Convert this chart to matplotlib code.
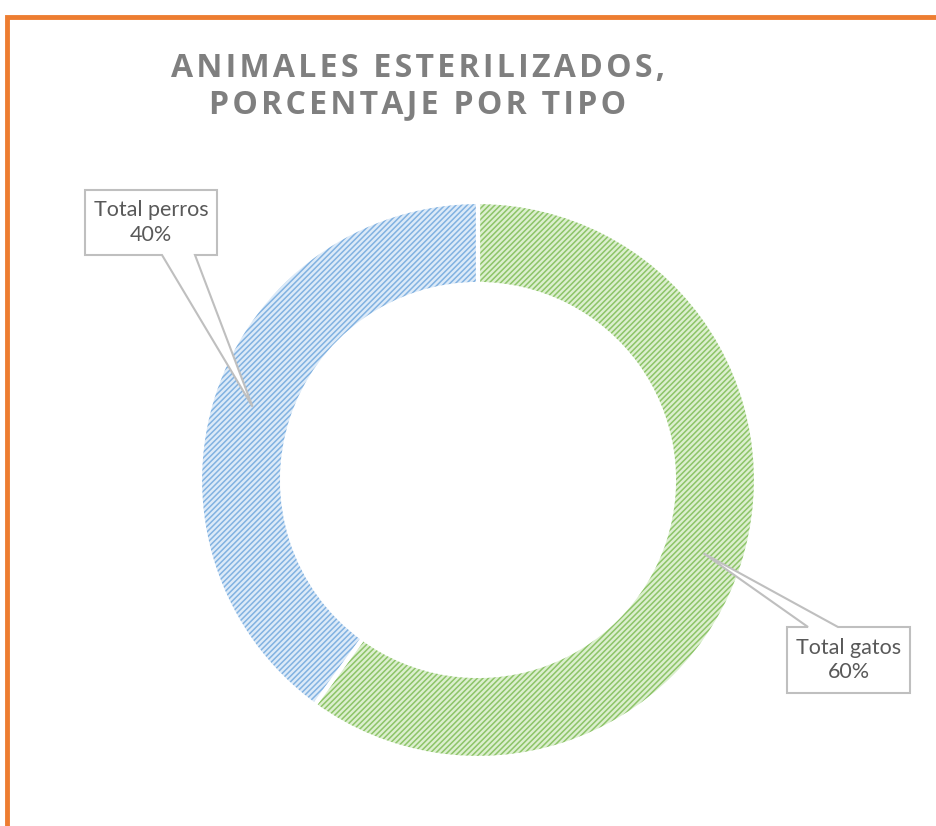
import matplotlib
matplotlib.use("Agg")
import matplotlib.pyplot as plt
import numpy as np
from matplotlib.patches import Polygon
from matplotlib.lines import Line2D

# data
categories = ["Total gatos", "Total perros"]
values = [60, 40]
pct_labels = ["60%", "40%"]
face_colors = ["#DCEFCF", "#DCEAF8"]
hatch_colors = ["#8DC468", "#82B2E1"]

W, H = 936, 826
fig = plt.figure(figsize=(W / 100, H / 100), dpi=100)
plt.rcParams['hatch.linewidth'] = 1.1

# center in image px and radius
cx, cy, R = 478, 480, 278
ax = fig.add_axes([0, 0, 1, 1])

def px(x, y):
    return ((x - cx) / R, (cy - y) / R)

ring = 0.295
wedges, _ = ax.pie(values, startangle=90, counterclock=False, radius=1,
                   colors=face_colors,
                   wedgeprops=dict(width=ring, linewidth=0), center=(0, 0),
                   frame=True)
for w, hc in zip(wedges, hatch_colors):
    w.set_hatch('//////')
    w.set_edgecolor(hc)
    w.set_linewidth(0)
ax.pie(values, startangle=90, counterclock=False, radius=1,
       colors=['none', 'none'],
       wedgeprops=dict(width=ring, linewidth=3, edgecolor='white'), center=(0, 0),
       frame=True)
ax.set_xlim(-cx / R, (W - cx) / R)
ax.set_ylim(-(H - cy) / R, cy / R)
ax.set_aspect('equal')
ax.axis('off')

# callouts
r_mid = 1 - ring / 2
boxes = {
    "Total gatos": dict(box=(787, 627, 910, 693), base=(808, 838), side='top'),
    "Total perros": dict(box=(85, 190, 217, 255), base=(162, 195), side='bottom'),
}
for w, cat, pl in zip(wedges, categories, pct_labels):
    ang = np.deg2rad((w.theta1 + w.theta2) / 2)
    tip = (r_mid * np.cos(ang), r_mid * np.sin(ang))
    b = boxes[cat]
    x0, y0, x1, y1 = b['box']
    bx0, bx1 = b['base']
    if b['side'] == 'top':
        pts = [px(x0, y0), px(bx0, y0), tip, px(bx1, y0), px(x1, y0), px(x1, y1), px(x0, y1)]
    else:
        pts = [px(x0, y0), px(x1, y0), px(x1, y1), px(bx1, y1), tip, px(bx0, y1), px(x0, y1)]
    ax.add_patch(Polygon(pts, closed=True, facecolor='white', edgecolor='#BFBFBF',
                         linewidth=1.5, zorder=5))
    tx, ty = px((x0 + x1) / 2, (y0 + y1) / 2)
    ax.text(tx, ty, f"{cat}\n{pl}", ha='center', va='center', fontsize=15.5,
            color='#595959', family=['Lato', 'DejaVu Sans'], linespacing=1.3, zorder=6)

# orange border
fig.add_artist(Line2D([7 / W, 7 / W, 1], [0, 1 - 17 / H, 1 - 17 / H],
                      transform=fig.transFigure, color='#ED7D31', linewidth=3.5,
                      solid_joinstyle='miter'))

# title
sp = '\u200a'
t1 = sp.join("ANIMALES ESTERILIZADOS,")
t2 = sp.join("PORCENTAJE POR TIPO")
for t, y in [(t1, 77), (t2, 113)]:
    fig.text(418 / W, 1 - y / H, t, ha='center', va='baseline', fontsize=23,
             fontweight='bold', color='#7F7F7F', family=['Open Sans', 'DejaVu Sans'])

fig.savefig('out.png', dpi=100)
